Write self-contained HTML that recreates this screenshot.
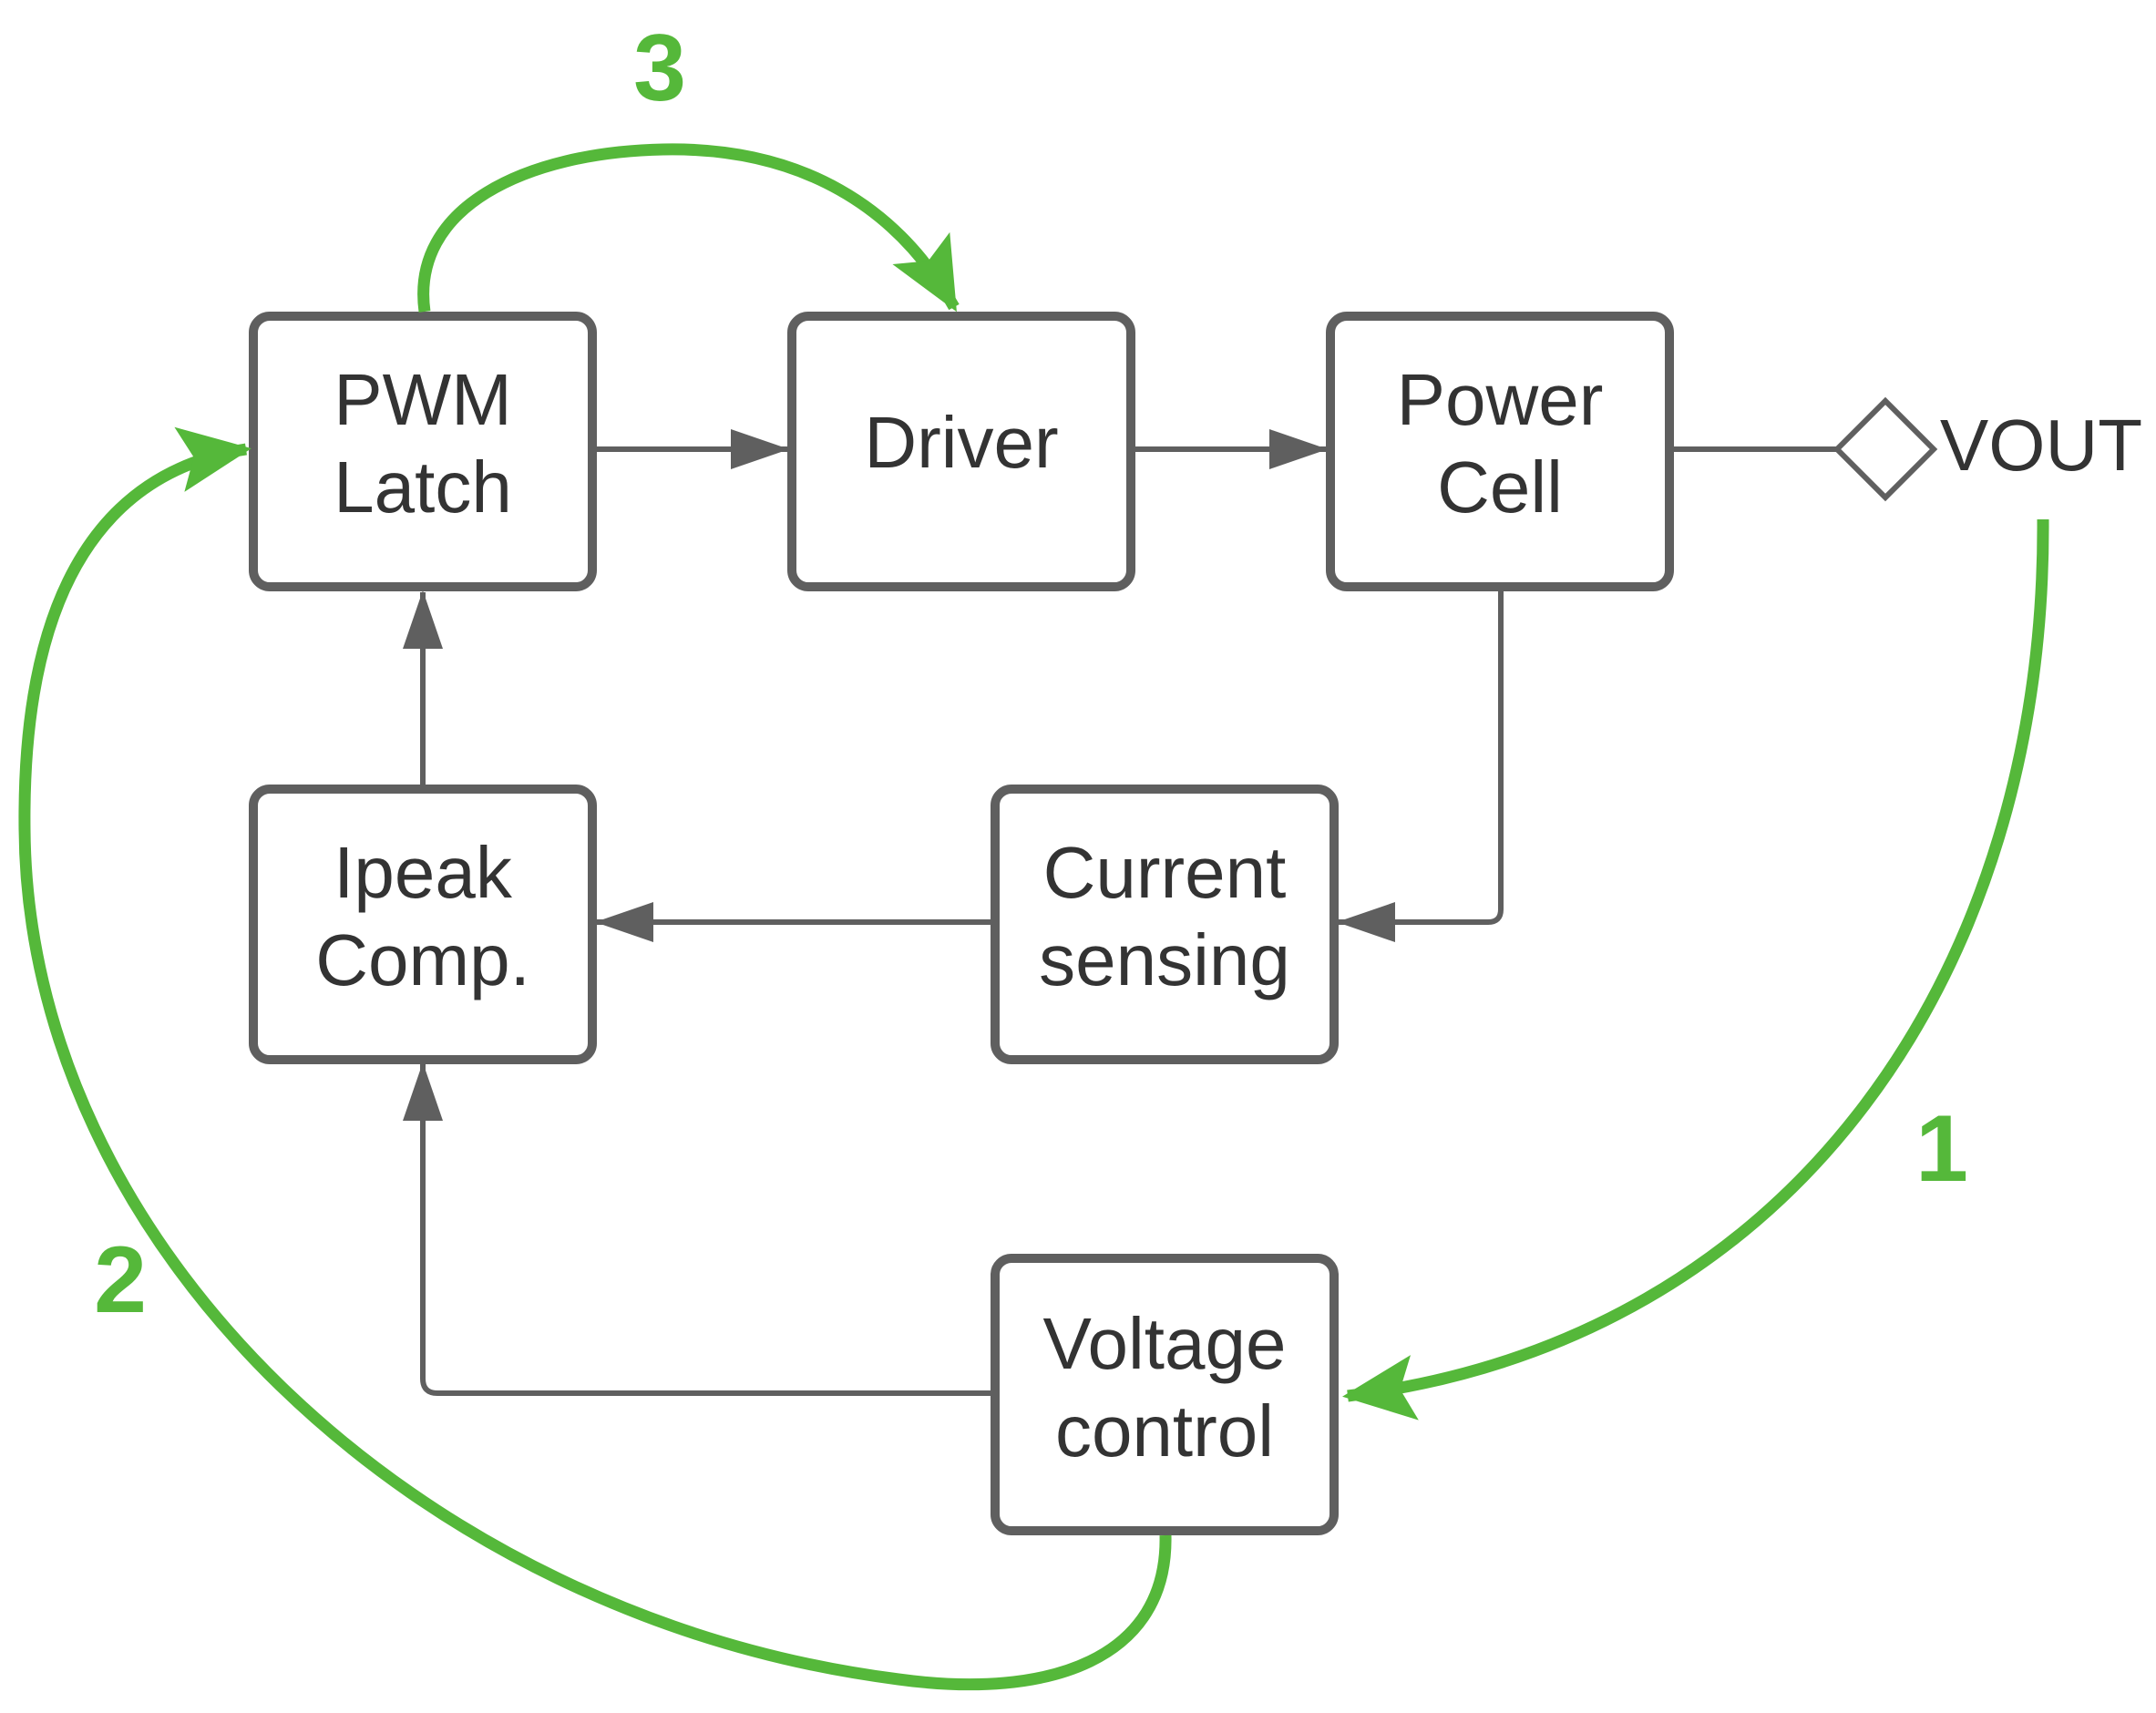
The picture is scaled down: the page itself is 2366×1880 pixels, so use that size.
<!DOCTYPE html>
<html><head><meta charset="utf-8"><style>html,body{margin:0;padding:0;background:#fff}svg{display:block}</style></head>
<body>
<svg width="2366" height="1880" viewBox="0 0 2366 1880" xmlns="http://www.w3.org/2000/svg" font-family="Liberation Sans, sans-serif">
<defs>
<marker id="ga" markerUnits="userSpaceOnUse" markerWidth="100" markerHeight="90" refX="74" refY="36" orient="auto"><path d="M0,0 L80,36 L0,72 L16,36 Z" fill="#55b83a"/></marker>
<marker id="ka" markerUnits="userSpaceOnUse" markerWidth="80" markerHeight="60" refX="62" refY="22" orient="auto"><path d="M0,0 L64,22 L0,44 Z" fill="#5f5f5f"/></marker>
</defs>
<g fill="#fff" stroke="#5f5f5f" stroke-width="10">
<rect x="278" y="347" width="372" height="297" rx="18"/>
<rect x="869" y="347" width="372" height="297" rx="18"/>
<rect x="1460" y="347" width="372" height="297" rx="18"/>
<rect x="278" y="866" width="372" height="297" rx="18"/>
<rect x="1092" y="866" width="372" height="297" rx="18"/>
<rect x="1092" y="1381" width="372" height="299" rx="18"/>
</g>
<g fill="none" stroke="#5f5f5f" stroke-width="6">
<path d="M655,493 L864,493" marker-end="url(#ka)"/>
<path d="M1246,493 L1455,493" marker-end="url(#ka)"/>
<path d="M1837,493 L2016,493"/>
<path d="M2069,440 L2122,493 L2069,546 L2016,493 Z"/>
<path d="M1647,649 L1647,998 Q1647,1012 1633,1012 L1469,1012" marker-end="url(#ka)"/>
<path d="M1087,1012 L655,1012" marker-end="url(#ka)"/>
<path d="M464,861 L464,650" marker-end="url(#ka)"/>
<path d="M1087,1529 L480,1529 Q464,1529 464,1513 L464,1168" marker-end="url(#ka)"/>
</g>
<g fill="none" stroke="#55b83a" stroke-width="13">
<path d="M466,342 C450,228 576,167 728,164 C880,161 986,228 1047,337" marker-end="url(#ga)"/>
<path d="M2242,570 C2245,1062 1972,1471 1479,1532" marker-end="url(#ga)"/>
<path d="M1279,1685 C1282,1820 1153,1866 986,1843 C455,1775 30,1365 27,910 C24,637 121,516 270,493" marker-end="url(#ga)"/>
</g>
<g fill="#333" font-size="80" text-anchor="middle">
<text x="464" y="466">PWM</text><text x="464" y="562">Latch</text>
<text x="1055" y="513">Driver</text>
<text x="1646" y="466">Power</text><text x="1646" y="562">Cell</text>
<text x="464" y="985">Ipeak</text><text x="464" y="1081">Comp.</text>
<text x="1278" y="985">Current</text><text x="1278" y="1081">sensing</text>
<text x="1278" y="1502">Voltage</text><text x="1278" y="1598">control</text>
<text x="2240" y="516">VOUT</text>
</g>
<g fill="#55b83a" font-size="104" font-weight="bold" text-anchor="middle">
<text x="724" y="110">3</text>
<text x="2131" y="1296">1</text>
<text x="132" y="1440">2</text>
</g>
</svg>
</body></html>
